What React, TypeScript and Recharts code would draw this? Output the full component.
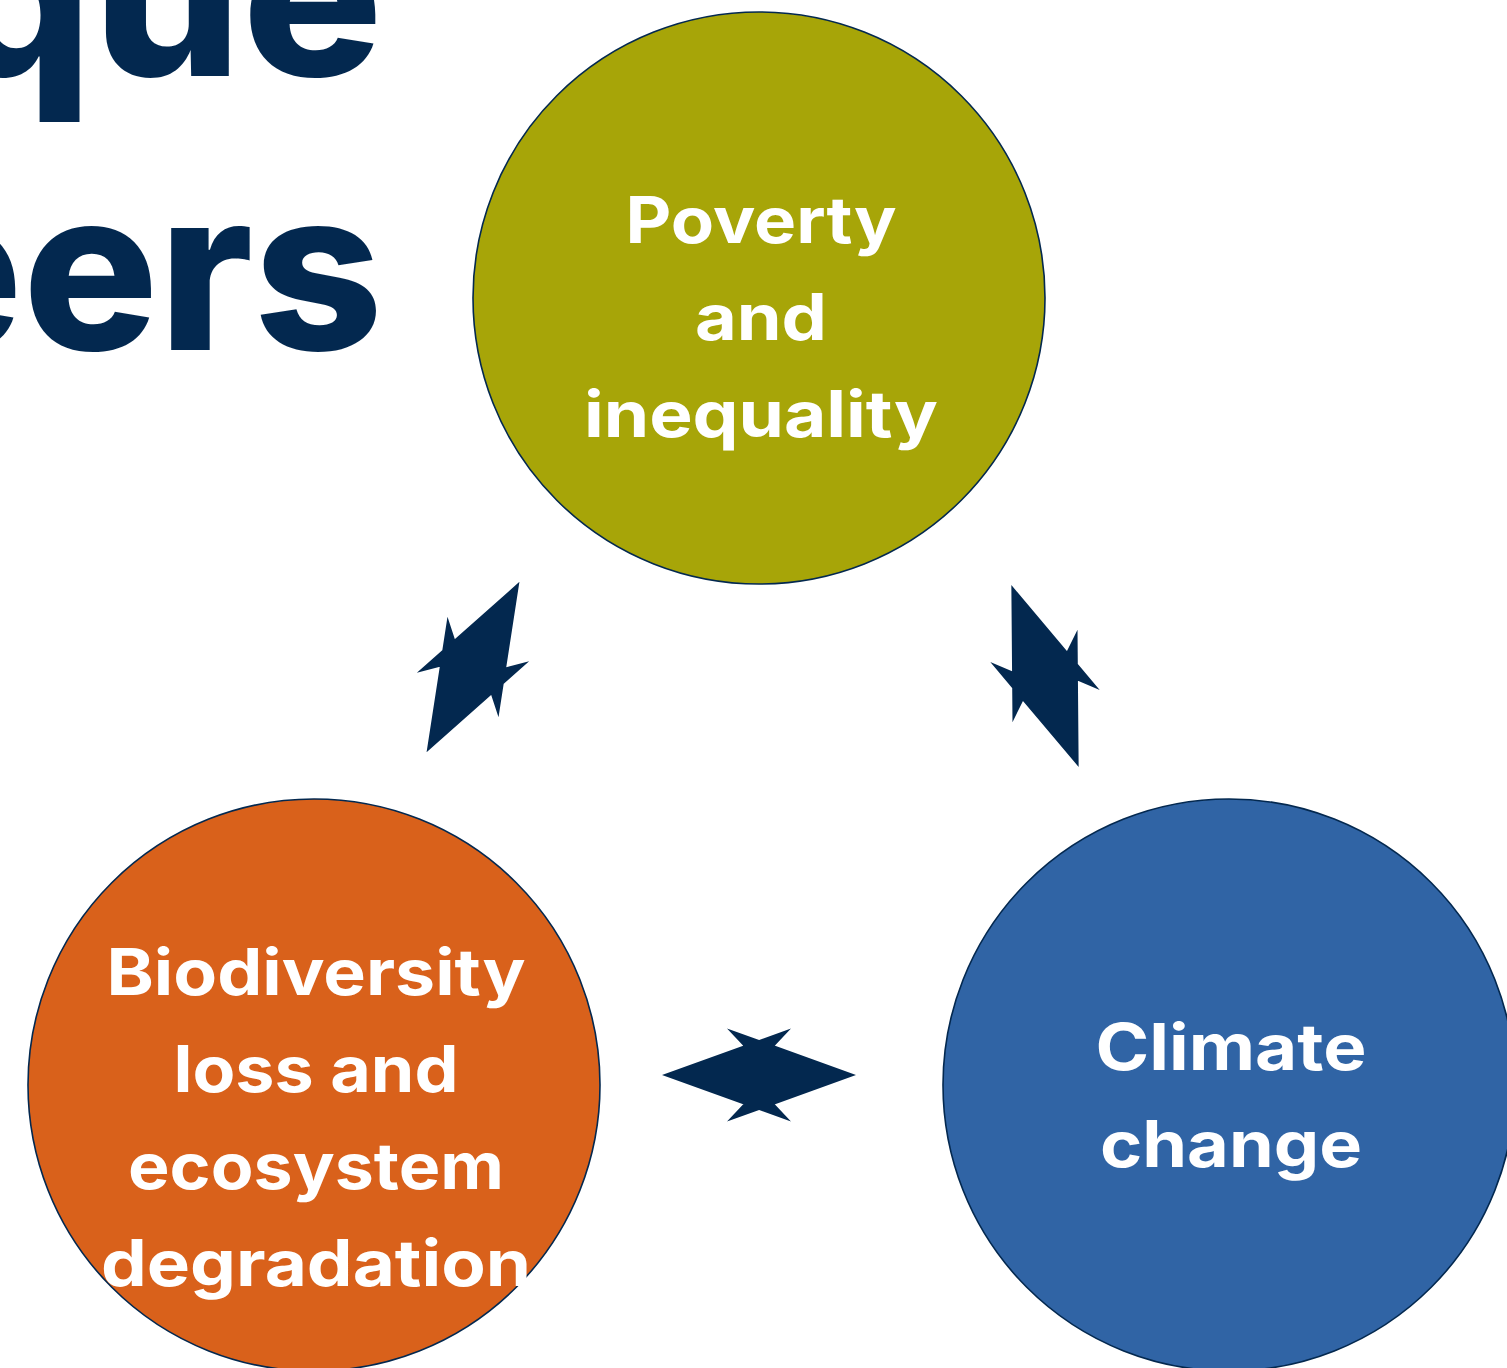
import React from 'react';
import { ScatterChart, Scatter, XAxis, YAxis } from 'recharts';

// ---- data ----
const NODE_NAMES = ['Poverty and inequality', 'Biodiversity loss and ecosystem degradation', 'Climate change'];
const NODE_X = [759, 314, 1229];
const NODE_Y = [298, 1085, 1085];
const NODE_LINES = [
  ['Poverty', 'and', 'inequality'],
  ['Biodiversity', 'loss and', 'ecosystem', 'degradation'],
  ['Climate', 'change'],
];

const ARROW_X = [473, 1045, 759];
const ARROW_Y = [667, 676, 1075];
const ARROW_ANGLE = [-61.4, 69.7, 0];

const TITLE_LINES = ['que', 'eers'];
const TITLE_X = [383, 383];
const TITLE_Y = [76, 350];

// ---- styles ----
const W = 1507;
const H = 1368;
const NAVY = '#03284f';
const NODE_FILLS = ['#a7a508', '#d9611b', '#3064a5'];
const NODE_RADIUS = 286;
const LINE_GAP = 97;
const FIRST_BASELINE = [-55, -90, -15];
const LINE_WIDTHS = [
  [267, 128, 350],
  [415, 281, 372, 426],
  [267, 258],
];
const TITLE_WIDTHS = [440, 496];
const ARROW_LEN = 194;
const HEAD_LEN = 129;
const HEAD_HALF = 46.5;
const SHAFT_HALF = 12.5;

const nodes = NODE_NAMES.map((name, i) => ({
  x: NODE_X[i],
  y: NODE_Y[i],
  name,
  lines: NODE_LINES[i],
  fill: NODE_FILLS[i],
  first: FIRST_BASELINE[i],
  widths: LINE_WIDTHS[i],
}));
const arrows = ARROW_X.map((x, i) => ({ x, y: ARROW_Y[i], angle: ARROW_ANGLE[i] }));
const titles = TITLE_LINES.map((t, i) => ({ x: TITLE_X[i], y: TITLE_Y[i], text: t, width: TITLE_WIDTHS[i] }));

const FONT = 'Inter, "Open Sans", sans-serif';

const NodeShape = (props: any) => {
  const { cx, cy, payload } = props;
  return (
    <g>
      <circle cx={cx} cy={cy} r={NODE_RADIUS} fill={payload.fill} stroke={NAVY} strokeWidth={1.6} />
      {payload.lines.map((t: string, j: number) => (
        <text
          key={j}
          x={cx + 2}
          y={cy + payload.first + j * LINE_GAP}
          textAnchor="middle"
          fill="#ffffff"
          fontFamily={FONT}
          fontWeight={700}
          fontSize={64}
          textLength={payload.widths[j] + 4}
          lengthAdjust="spacingAndGlyphs"
        >
          {t}
        </text>
      ))}
    </g>
  );
};

const ArrowShape = (props: any) => {
  const { cx, cy, payload } = props;
  const a = (payload.angle * Math.PI) / 180;
  const ux = Math.cos(a);
  const uy = Math.sin(a);
  const nx = -uy;
  const ny = ux;
  const half = ARROW_LEN / 2;
  const shaftHalf = Math.max(0, half - HEAD_LEN);
  const tA = [cx + half * ux, cy + half * uy];
  const tB = [cx - half * ux, cy - half * uy];
  const bA = [tA[0] - HEAD_LEN * ux, tA[1] - HEAD_LEN * uy];
  const bB = [tB[0] + HEAD_LEN * ux, tB[1] + HEAD_LEN * uy];
  const nA = [cx + shaftHalf * ux, cy + shaftHalf * uy];
  const nB = [cx - shaftHalf * ux, cy - shaftHalf * uy];
  const p = (base: number[], k: number) => [base[0] + k * nx, base[1] + k * ny];
  const pts = [
    tA,
    p(bA, HEAD_HALF),
    p(nA, SHAFT_HALF),
    p(nB, SHAFT_HALF),
    p(bB, HEAD_HALF),
    tB,
    p(bB, -HEAD_HALF),
    p(nB, -SHAFT_HALF),
    p(nA, -SHAFT_HALF),
    p(bA, -HEAD_HALF),
  ];
  return <polygon points={pts.map((q) => `${q[0]},${q[1]}`).join(' ')} fill={NAVY} />;
};

const TitleShape = (props: any) => {
  const { cx, cy, payload } = props;
  return (
    <text
      x={cx}
      y={cy}
      textAnchor="end"
      fill={NAVY}
      fontFamily={FONT}
      fontWeight={800}
      fontSize={224}
      textLength={payload.width}
      lengthAdjust="spacingAndGlyphs"
    >
      {payload.text}
    </text>
  );
};

export default function App() {
  return (
    <div style={{ position: 'absolute', left: 0, top: 0, width: W, height: H, background: '#fff' }}>
      <ScatterChart width={W} height={H} margin={{ top: 0, right: 0, bottom: 0, left: 0 }}>
        <XAxis type="number" dataKey="x" domain={[0, W]} hide />
        <YAxis type="number" dataKey="y" domain={[0, H]} reversed hide />
        <Scatter data={nodes} shape={NodeShape} isAnimationActive={false} />
        <Scatter data={arrows} shape={ArrowShape} isAnimationActive={false} />
        <Scatter data={titles} shape={TitleShape} isAnimationActive={false} />
      </ScatterChart>
    </div>
  );
}
